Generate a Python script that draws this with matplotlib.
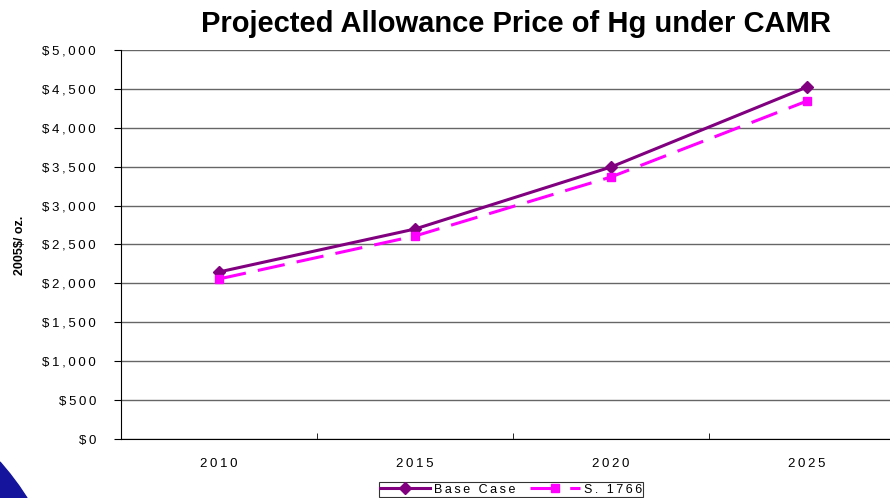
import matplotlib.pyplot as plt
import matplotlib.patches as mpatches
from matplotlib.ticker import FuncFormatter
import numpy as np

plt.rcParams['font.family'] = ['Liberation Sans', 'DejaVu Sans']

# data
years = ["2010", "2015", "2020", "2025"]
base_case = [2147, 2699, 3496, 4524]
s1766 = [2057, 2609, 3368, 4344]
y_ticks = [0, 500, 1000, 1500, 2000, 2500, 3000, 3500, 4000, 4500, 5000]


def spaced(s):
    # the original labels are letter-spaced
    return "\u2009".join(s)


fig = plt.figure(figsize=(8.9, 4.98), dpi=100)
ax = fig.add_axes([121 / 890, 1 - 439 / 498, 784 / 890, 389 / 498])

x = np.arange(len(years))
ax.plot(x, base_case, color="#800080", lw=2.2, marker="D", ms=6,
        label="Base Case", zorder=3)
ax.plot(x, s1766, color="#FF00FF", lw=2.2, dashes=(9, 4), marker="s", ms=6,
        label="S. 1766", zorder=3)

ax.set_xlim(-0.5, 3.5)
ax.set_ylim(0, 5000)
ax.set_yticks(y_ticks)
ax.yaxis.set_major_formatter(FuncFormatter(lambda v, p: spaced(f"${int(v):,}")))
ax.set_xticks(x)
ax.set_xticklabels([spaced(y) for y in years])
ax.set_xticks(np.arange(-0.5, 4, 1), minor=True)
ax.tick_params(axis="x", which="major", length=0, pad=14, labelsize=9.5)
ax.tick_params(axis="x", which="minor", length=4, direction="in")
ax.tick_params(axis="y", length=5, direction="out", labelsize=9.5, pad=13)

ax.grid(axis="y", color="#666666", lw=1)
ax.set_axisbelow(True)
for side in ["top", "right"]:
    ax.spines[side].set_visible(False)
ax.spines["left"].set_color("black")
ax.spines["bottom"].set_color("black")

fig.text(20 / 890, 1 - 245 / 498, "2005$/ oz.", rotation=90, ha="center",
         va="center", fontsize=9, fontweight="bold")
fig.text(0.58, 0.952, "Projected Allowance Price of Hg under CAMR",
         ha="center", va="center", fontsize=21, fontweight="bold")

leg = fig.legend(loc="lower center", bbox_to_anchor=(0.574, 0.0), ncol=2,
                 frameon=True, fancybox=False, fontsize=9, handlelength=4,
                 borderpad=0.1, columnspacing=1.2, handletextpad=0.3,
                 borderaxespad=0.1)
leg.get_frame().set_edgecolor("black")
leg.get_frame().set_linewidth(0.8)
for t in leg.get_texts():
    t.set_text(spaced(t.get_text()))

# blue corner decoration of the slide
corner_px = [(0, 462), (10, 474), (19, 486), (27, 498), (0, 498)]
corner = mpatches.Polygon([(px / 890, 1 - py / 498) for px, py in corner_px],
                          closed=True, transform=fig.transFigure,
                          color="#14149c", zorder=0)
fig.patches.append(corner)

fig.savefig("out.png", dpi=100)
